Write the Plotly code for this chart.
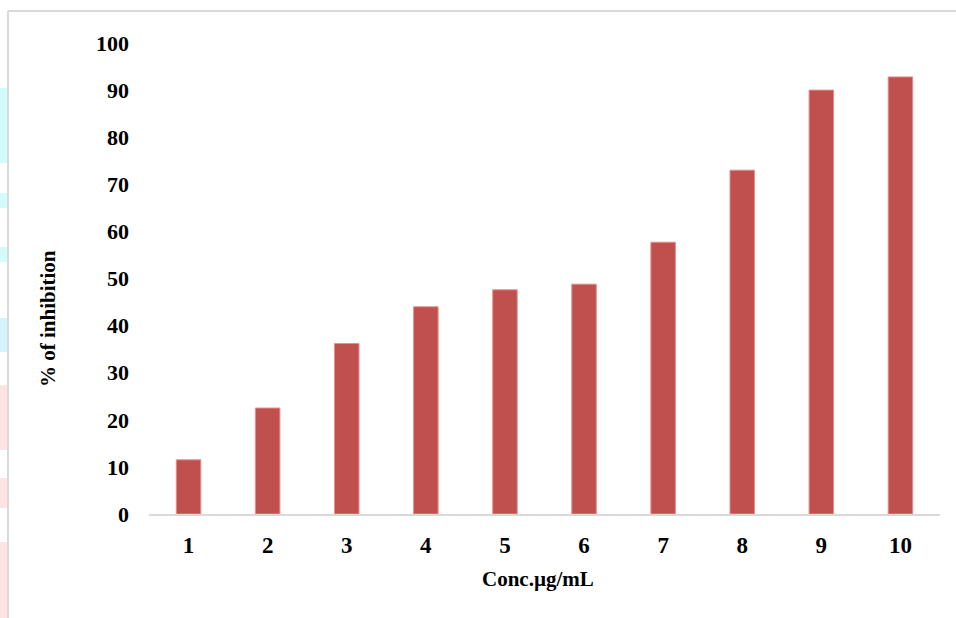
import plotly.graph_objects as go

# Concentration steps and measured inhibition (%)
concentrations = ["1", "2", "3", "4", "5", "6", "7", "8", "9", "10"]
inhibition = [11.5, 22.5, 36.2, 44.0, 47.6, 48.8, 57.7, 73.0, 90.0, 92.8]
y_ticks = [0, 10, 20, 30, 40, 50, 60, 70, 80, 90, 100]

W, H = 956, 618
ML, MR, MT, MB = 149, 16, 43, 104
PW, PH = W - ML - MR, H - MT - MB


def px_x(px):
    return (px - ML) / PW


def px_y(py):
    return (H - MB - py) / PH


BAR = "#C0504D"
FONT = "Liberation Serif"

fig = go.Figure(
    go.Bar(
        x=concentrations,
        y=inhibition,
        marker=dict(color=BAR, line=dict(color="#e3908e", width=1)),
        width=0.31,
    )
)

shapes = []
# light frame around the chart area (left and top edges)
shapes.append(dict(type="line", xref="paper", yref="paper",
                   x0=px_x(8), x1=px_x(956), y0=px_y(11), y1=px_y(11),
                   line=dict(color="#d9d9d9", width=2), layer="below"))
shapes.append(dict(type="line", xref="paper", yref="paper",
                   x0=px_x(8), x1=px_x(8), y0=px_y(11), y1=px_y(618),
                   line=dict(color="#d9d9d9", width=2), layer="below"))
# coloured strips of the page background at the left edge
strips = [
    (88, 163, "#d3fbfc"), (193, 208, "#d3fbfc"), (247, 262, "#d3fbfc"),
    (318, 352, "#d6f3fa"), (385, 450, "#fde3e3"), (478, 508, "#fde3e3"),
    (542, 618, "#fde3e3"),
]
for top, bottom, col in strips:
    shapes.append(dict(type="rect", xref="paper", yref="paper",
                       x0=px_x(0), x1=px_x(7), y0=px_y(bottom), y1=px_y(top),
                       fillcolor=col, line=dict(width=0), layer="below"))

fig.update_layout(
    width=W, height=H,
    margin=dict(l=ML, r=MR, t=MT, b=MB),
    paper_bgcolor="white", plot_bgcolor="white",
    showlegend=False,
    shapes=shapes,
    font=dict(family=FONT, color="black"),
    xaxis=dict(
        type="category",
        showgrid=False, showline=True, linecolor="#d9d9d9", linewidth=2,
        ticks="", tickfont=dict(family=FONT, size=23, color="black", weight="bold"),
        ticklabelstandoff=9,
    ),
    yaxis=dict(
        range=[0, 100], tickvals=y_ticks, showgrid=False, showline=False,
        zeroline=False, ticks="",
        tickfont=dict(family=FONT, size=22, color="black", weight="bold"),
        ticklabelstandoff=19,
    ),
    annotations=[
        dict(text="<b>Conc.µg/mL</b>", xref="paper", yref="paper",
             x=px_x(538), y=px_y(579), xanchor="center", yanchor="middle",
             showarrow=False, font=dict(family=FONT, size=21, color="black")),
        dict(text="<b>% of inhibition</b>", xref="paper", yref="paper",
             x=px_x(48), y=px_y(319), xanchor="center", yanchor="middle",
             showarrow=False, textangle=-90,
             font=dict(family=FONT, size=21, color="black")),
    ],
)

fig.write_html("out.html")
